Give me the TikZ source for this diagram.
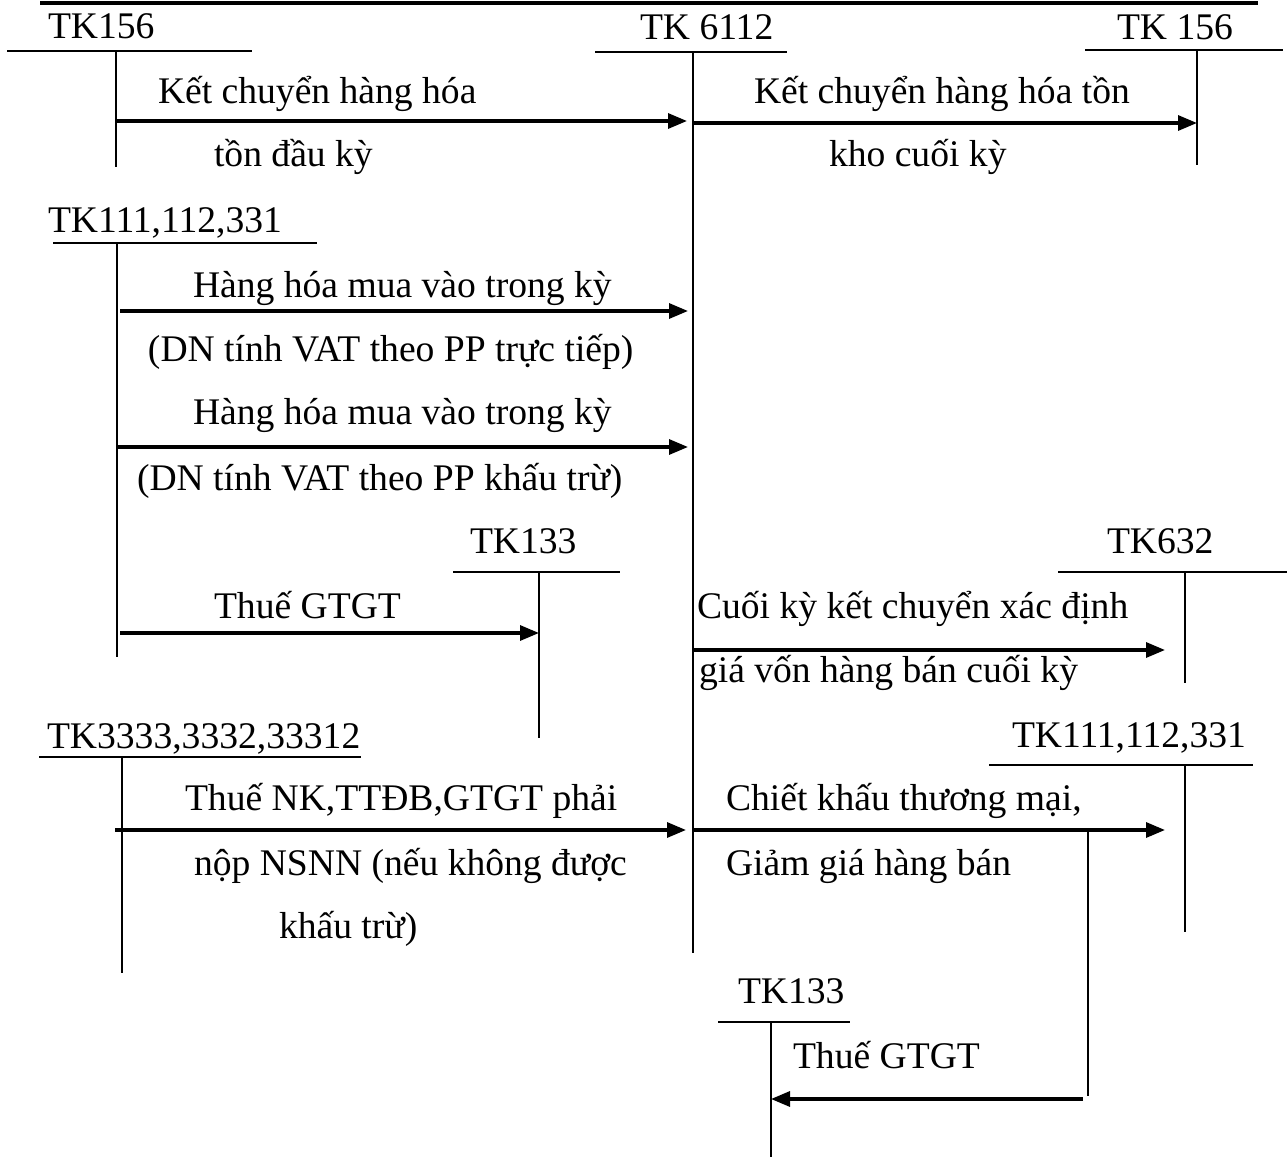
\documentclass[tikz,border=0pt]{standalone}
\usepackage{fontspec}
\setmainfont{Liberation Serif}
\usetikzlibrary{arrows.meta}
\begin{document}
\begin{tikzpicture}[x=0.5pt,y=-0.5pt,
  lbl/.style={anchor=base west,inner sep=0pt,outer sep=0pt,font=\fontsize{18.8}{21}\selectfont},
  tline/.style={line width=1pt},
  flow/.style={line width=1.6pt,-{Triangle[length=9.5pt,width=7.5pt]}},
  toprule/.style={line width=1.8pt}]
\useasboundingbox (0,0) rectangle (1287,1157);

% T-account: name, left, right, y of bar, x of stem, end of stem
\newcommand{\taccount}[6]{%
  \coordinate (#1-l) at (#2,#4);
  \coordinate (#1-r) at (#3,#4);
  \coordinate (#1-t) at (#5,#4);
  \coordinate (#1-b) at (#5,#6);
  \draw[tline] (#1-l) -- (#1-r);
  \draw[tline] (#1-t) -- (#1-b);}

% rule under the heading line
\coordinate (hl) at (40,3);
\coordinate (hr) at (1258,3);
\draw[toprule] (hl) -- (hr);

% accounts
\taccount{tkA}{7}{252}{51}{116}{167}
\taccount{tkM}{595}{787}{52}{693}{953}
\taccount{tkB}{1085}{1283}{50}{1197}{165}
\taccount{tkC}{53}{317}{243}{117}{657}
\taccount{tkD}{453}{620}{572}{539}{738}
\taccount{tkE}{1058}{1287}{572}{1185}{683}
\taccount{tkF}{39}{361}{757}{122}{973}
\taccount{tkG}{989}{1253}{765}{1185}{932}
\taccount{tkH}{718}{850}{1022}{771}{1157}

% account titles
\node[lbl] (nA) at (48,38) {TK156};
\node[lbl] (nM) at (640,39) {TK 6112};
\node[lbl] (nB) at (1117,39) {TK 156};
\node[lbl] (nC) at (48,232) {TK111,112,331};
\node[lbl] (nD) at (470,553) {TK133};
\node[lbl] (nE) at (1107,553) {TK632};
\node[lbl] (nF) at (47,748) {TK3333,3332,33312};
\node[lbl] (nG) at (1012,747) {TK111,112,331};
\node[lbl] (nH) at (738,1003) {TK133};

% arrow ends
\coordinate (a1s) at (116,121);  \coordinate (a1e) at (687,121);
\coordinate (a2s) at (693,123);  \coordinate (a2e) at (1197,123);
\coordinate (a3s) at (120,311);  \coordinate (a3e) at (688,311);
\coordinate (a4s) at (117,447);  \coordinate (a4e) at (688,447);
\coordinate (a5s) at (120,633);  \coordinate (a5e) at (539,633);
\coordinate (a6s) at (693,650);  \coordinate (a6e) at (1165,650);
\coordinate (a7s) at (115,830);  \coordinate (a7e) at (686,830);
\coordinate (a8s) at (693,830);  \coordinate (a8e) at (1165,830);
\coordinate (a9s) at (1083,1099); \coordinate (a9e) at (771,1099);
\coordinate (dt) at (1088,830);  \coordinate (db) at (1088,1096);

\draw[flow] (a1s) -- (a1e);
\draw[flow] (a2s) -- (a2e);
\draw[flow] (a3s) -- (a3e);
\draw[flow] (a4s) -- (a4e);
\draw[flow] (a5s) -- (a5e);
\draw[flow] (a6s) -- (a6e);
\draw[flow] (a7s) -- (a7e);
\draw[flow] (a8s) -- (a8e);
\draw[tline] (dt) -- (db);
\draw[flow] (a9s) -- (a9e);

% entry descriptions
\node[lbl] (t1a) at (158,103) {Kết chuyển hàng hóa};
\node[lbl] (t1b) at (214,166) {tồn đầu kỳ};
\node[lbl] (t2a) at (754,103) {Kết chuyển hàng hóa tồn};
\node[lbl] (t2b) at (829,166) {kho cuối kỳ};
\node[lbl] (t3a) at (193,297) {Hàng hóa mua vào trong kỳ};
\node[lbl] (t3b) at (148,361) {(DN tính VAT theo PP trực tiếp)};
\node[lbl] (t4a) at (193,424) {Hàng hóa mua vào trong kỳ};
\node[lbl] (t4b) at (137,490) {(DN tính VAT theo PP khấu trừ)};
\node[lbl] (t5) at (214,618) {Thuế GTGT};
\node[lbl] (t6a) at (697,618) {Cuối kỳ kết chuyển xác định};
\node[lbl] (t6b) at (699,682) {giá vốn hàng bán cuối kỳ};
\node[lbl] (t7a) at (185,810) {Thuế NK,TTĐB,GTGT phải};
\node[lbl] (t7b) at (194,875) {nộp NSNN (nếu không được};
\node[lbl] (t7c) at (279,938) {khấu trừ)};
\node[lbl] (t8a) at (726,810) {Chiết khấu thương mại,};
\node[lbl] (t8b) at (726,875) {Giảm giá hàng bán};
\node[lbl] (t9) at (793,1068) {Thuế GTGT};
\end{tikzpicture}
\end{document}
